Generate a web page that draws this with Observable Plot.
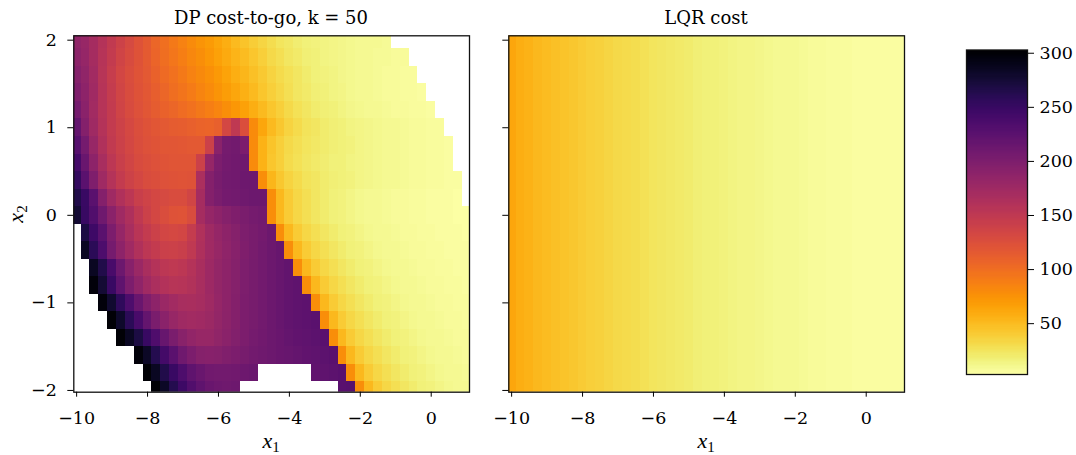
<!DOCTYPE html>
<html>
<head>
<meta charset="utf-8">
<script src="https://cdn.jsdelivr.net/npm/d3@7"></script>
<script src="https://cdn.jsdelivr.net/npm/@observablehq/plot@0.6"></script>
<style>
  body { margin: 0; background: #fff; }
  #root { position: relative; width: 1076px; height: 455px; font-family: "DejaVu Serif", serif; color: #000; }
  .panel { position: absolute; top: 0; }
  .lbl { position: absolute; font-size: 18px; white-space: nowrap; transform: translate(-50%, -50%); line-height: 1.2; }
  .math { font-family: "Liberation Serif", serif; font-size: 22px; font-style: italic; line-height: 1.2; }
  .math sub { font-style: normal; font-size: 0.68em; position: relative; top: 0.25em; vertical-align: baseline; line-height: 1; }
</style>
</head>
<body>
<div id="root"></div>
<script>
// ---- data ----
const x1Values = [-10, -9.75, -9.5, -9.25, -9, -8.75, -8.5, -8.25, -8, -7.75, -7.5, -7.25, -7, -6.75, -6.5, -6.25, -6, -5.75, -5.5, -5.25, -5, -4.75, -4.5, -4.25, -4, -3.75, -3.5, -3.25, -3, -2.75, -2.5, -2.25, -2, -1.75, -1.5, -1.25, -1, -0.75, -0.5, -0.25, 0, 0.25, 0.5, 0.75, 1];
const x2Rows = [2.0, 1.8, 1.6, 1.4, 1.2, 1.0, 0.8, 0.6, 0.4, 0.2, 0.0, -0.2, -0.4, -0.6, -0.8, -1.0, -1.2, -1.4, -1.6, -1.8, -2.0];
const N = null; // infeasible states (blank in the reference)
// DP cost-to-go (k = 50), one array per x2 row, values along x1Values
const dpCost = [
  /* 2.0 */ [185,180,170,158,148,138,130,122,115,106,99,92,86,80,74,69,63,57,51,45,39,34,29,25,22,19,17,15,14,13,12,11,10,9,9,8,N,N,N,N,N,N,N,N,N],
  /* 1.8 */ [189,182,170,157,146,136,129,122,115,107,100,94,88,82,77,72,66,60,54,49,43,37,32,28,24,21,18,16,14,13,12,11,10,9,8,8,7,7,N,N,N,N,N,N,N],
  /* 1.6 */ [193,185,172,156,144,134,127,121,116,109,102,97,91,86,81,76,70,64,58,53,47,41,35,31,27,23,20,17,15,14,12,11,10,9,8,7,7,6,6,N,N,N,N,N,N],
  /* 1.4 */ [198,188,174,157,145,135,128,122,117,111,105,100,95,90,85,80,74,68,62,56,50,44,38,33,28,24,21,18,16,14,13,11,10,9,8,7,7,6,6,5,N,N,N,N,N],
  /* 1.2 */ [205,190,172,157,146,136,129,123,119,114,109,105,101,97,93,88,83,78,72,66,58,50,43,37,32,27,23,20,18,16,14,12,11,10,9,8,7,7,6,6,5,N,N,N,N],
  /* 1.0 */ [218,195,175,158,147,138,131,126,122,119,116,114,112,110,108,107,110,132,150,125,80,62,50,42,35,30,26,23,20,18,16,14,13,12,11,10,9,8,7,7,6,6,N,N,N],
  /* 0.8 */ [228,205,180,162,148,139,132,127,123,121,119,118,117,116,116,140,190,205,208,200,80,55,45,38,32,28,25,22,20,18,16,15,13,12,11,10,9,8,7,7,6,6,5,N,N],
  /* 0.6 */ [240,215,188,168,152,142,135,129,125,123,121,120,120,120,140,182,200,206,209,210,80,55,44,37,31,27,24,21,19,17,16,14,13,12,11,10,9,8,7,7,6,6,5,N,N],
  /* 0.4 */ [252,225,198,175,158,146,138,132,128,125,123,122,121,122,165,195,203,207,209,211,212,78,53,42,35,30,26,23,20,18,16,15,13,12,11,10,9,8,7,7,6,6,5,5,N],
  /* 0.2 */ [265,248,225,195,175,162,152,142,137,133,130,128,128,135,170,195,202,206,208,210,212,212,78,52,40,33,28,24,20,17,15,13,11,10,9,8,7,7,6,6,5,5,5,4,N],
  /* 0.0 */ [275,250,232,210,190,175,163,150,140,133,127,122,121,128,170,182,188,193,198,202,205,208,78,52,40,33,28,24,20,17,15,13,11,10,9,8,7,7,6,6,5,5,5,4,4],
  /*-0.2 */ [N,268,245,225,200,182,168,155,146,139,134,131,134,145,162,175,182,188,194,199,203,206,212,78,52,40,33,28,24,20,17,15,13,11,10,9,8,7,7,6,6,5,5,5,4],
  /*-0.4 */ [N,285,258,235,205,188,173,162,152,146,141,139,142,150,163,173,180,186,192,198,203,207,212,216,78,52,40,33,28,24,20,17,15,13,11,10,9,8,7,7,6,6,5,5,5],
  /*-0.6 */ [N,N,285,265,238,212,192,178,167,158,152,150,152,158,167,176,183,188,194,199,204,208,212,216,219,78,52,40,33,28,24,20,17,15,13,11,10,9,8,7,7,6,6,5,5],
  /*-0.8 */ [N,N,298,275,248,222,200,186,174,165,159,156,157,161,168,176,183,188,194,199,204,208,212,216,219,221,78,52,40,33,28,24,20,17,15,13,11,10,9,8,7,7,6,6,5],
  /*-1.0 */ [N,N,N,298,278,255,235,215,198,187,178,172,168,166,169,175,182,188,195,200,204,208,212,216,219,221,223,78,52,40,33,28,24,20,17,15,13,11,10,9,8,7,7,6,6],
  /*-1.2 */ [N,N,N,N,300,280,258,238,218,202,190,181,175,172,173,177,183,189,195,200,204,208,212,216,219,221,223,225,78,52,40,33,28,24,20,17,15,13,11,10,9,8,7,7,6],
  /*-1.4 */ [N,N,N,N,N,300,285,268,250,233,216,202,191,184,181,181,185,190,196,201,205,209,212,215,218,220,222,224,226,78,52,40,33,28,24,20,17,15,13,11,10,9,8,7,7],
  /*-1.6 */ [N,N,N,N,N,N,N,298,282,262,242,225,210,200,194,192,194,197,201,204,207,210,212,214,216,218,220,222,224,226,78,52,40,33,28,24,20,17,15,13,11,10,9,8,7],
  /*-1.8 */ [N,N,N,N,N,N,N,N,300,285,265,248,234,222,214,209,207,208,209,211,213,N,N,N,N,N,N,220,222,224,226,78,52,40,33,28,24,20,17,15,13,11,10,9,8],
  /*-2.0 */ [N,N,N,N,N,N,N,N,N,300,282,262,246,232,222,215,211,210,211,N,N,N,N,N,N,N,N,N,N,N,226,228,78,52,40,33,28,24,20,17,15,13,11,10,9]
];
// LQR cost, constant along x2, values along x1Values
const lqrCost = [62,58,55,52,49,47,45,42,40,38,36,34,32,30,29,27,25,24,22,21,20,18,17,16,15,14,13,12.5,12,11,10,9.5,9,8,7.5,7,6.5,6,5.5,5,5,5,5,5,5];
const xTicks = [-10, -8, -6, -4, -2, 0];
const yTicks = [-2, -1, 0, 1, 2];
const colorTicks = [50, 100, 150, 200, 250, 300];
const colorDomain = [3, 303];
const titles = ["DP cost-to-go, k = 50", "LQR cost"];

// ---- drawing ----
const dx = 0.125, dy = 0.1;
const fmt = d => d < 0 ? "\u2212" + Math.abs(d) : String(d);
const colorScale = {type: "linear", scheme: "inferno", reverse: true, domain: colorDomain};
const baseStyle = {fontFamily: "'DejaVu Serif', serif", fontSize: "17.5px", background: "transparent", color: "#000"};
const xDom = [-10.08, 1.08], yDom = [-2.02, 2.05];

const dpCells = [];
x2Rows.forEach((y, i) => dpCost[i].forEach((v, j) => {
  if (v != null) dpCells.push({x: x1Values[j], y, v});
}));
const lqrCells = x1Values.map((x, j) => ({x, v: lqrCost[j]}));

const root = document.getElementById("root");
function place(el, left) {
  const wrap = document.createElement("div");
  wrap.className = "panel";
  wrap.style.left = left + "px";
  wrap.appendChild(el);
  root.appendChild(wrap);
}

const leftPlot = Plot.plot({
  width: 490, height: 455,
  marginLeft: 73.3, marginRight: 21, marginTop: 35.3, marginBottom: 63.3,
  style: baseStyle,
  x: {domain: xDom, label: null},
  y: {domain: yDom, label: null},
  color: colorScale,
  marks: [
    Plot.rect(dpCells, {x1: d => d.x - dx, x2: d => d.x + dx, y1: d => d.y - dy, y2: d => d.y + dy, fill: "v", clip: true, shapeRendering: "crispEdges"}),
    Plot.frame({stroke: "#111", strokeWidth: 1.3}),
    Plot.axisX({ticks: xTicks, tickSize: 5, tickPadding: 14, tickFormat: fmt, label: null}),
    Plot.axisY({ticks: yTicks, tickSize: 6, tickPadding: 11, tickFormat: fmt, label: null})
  ]
});
place(leftPlot, 0);

const rightPlot = Plot.plot({
  width: 450, height: 455,
  marginLeft: 18.3, marginRight: 36, marginTop: 35.3, marginBottom: 63.3,
  style: baseStyle,
  x: {domain: xDom, label: null},
  y: {domain: yDom, label: null},
  color: colorScale,
  marks: [
    Plot.rect(lqrCells, {x1: d => d.x - dx, x2: d => d.x + dx, y1: () => -2.1, y2: () => 2.1, fill: "v", clip: true, shapeRendering: "crispEdges"}),
    Plot.frame({stroke: "#111", strokeWidth: 1.3}),
    Plot.axisX({ticks: xTicks, tickSize: 5, tickPadding: 14, tickFormat: fmt, label: null}),
    Plot.axisY({ticks: yTicks, tickSize: 6, tickFormat: () => "", label: null})
  ]
});
place(rightPlot, 490);

const barSteps = d3.range(colorDomain[0], colorDomain[1], 1);
const barPlot = Plot.plot({
  width: 136, height: 455,
  marginLeft: 26, marginRight: 49, marginTop: 49.5, marginBottom: 81,
  style: baseStyle,
  x: {domain: [0, 1], axis: null},
  y: {domain: colorDomain, label: null},
  color: colorScale,
  marks: [
    Plot.rect(barSteps, {x1: () => 0, x2: () => 1, y1: d => d, y2: d => d + 1, fill: d => d + 0.5, shapeRendering: "crispEdges"}),
    Plot.frame({stroke: "#111", strokeWidth: 1.3}),
    Plot.axisY({anchor: "right", ticks: colorTicks, tickSize: 6, tickPadding: 6, tickFormat: d => String(d), label: null})
  ]
});
place(barPlot, 940);

function label(html, left, top, cls, rotate) {
  const d = document.createElement("div");
  d.className = "lbl " + (cls || "");
  d.innerHTML = html;
  d.style.left = left + "px";
  d.style.top = top + "px";
  if (rotate) d.style.transform = "translate(-50%, -50%) rotate(-90deg)";
  root.appendChild(d);
}
label(titles[0], 271, 18);
label(titles[1], 706, 18);
label("x<sub>1</sub>", 271, 441, "math");
label("x<sub>1</sub>", 706, 441, "math");
label("x<sub>2</sub>", 16, 214, "math", true);
</script>
</body>
</html>
